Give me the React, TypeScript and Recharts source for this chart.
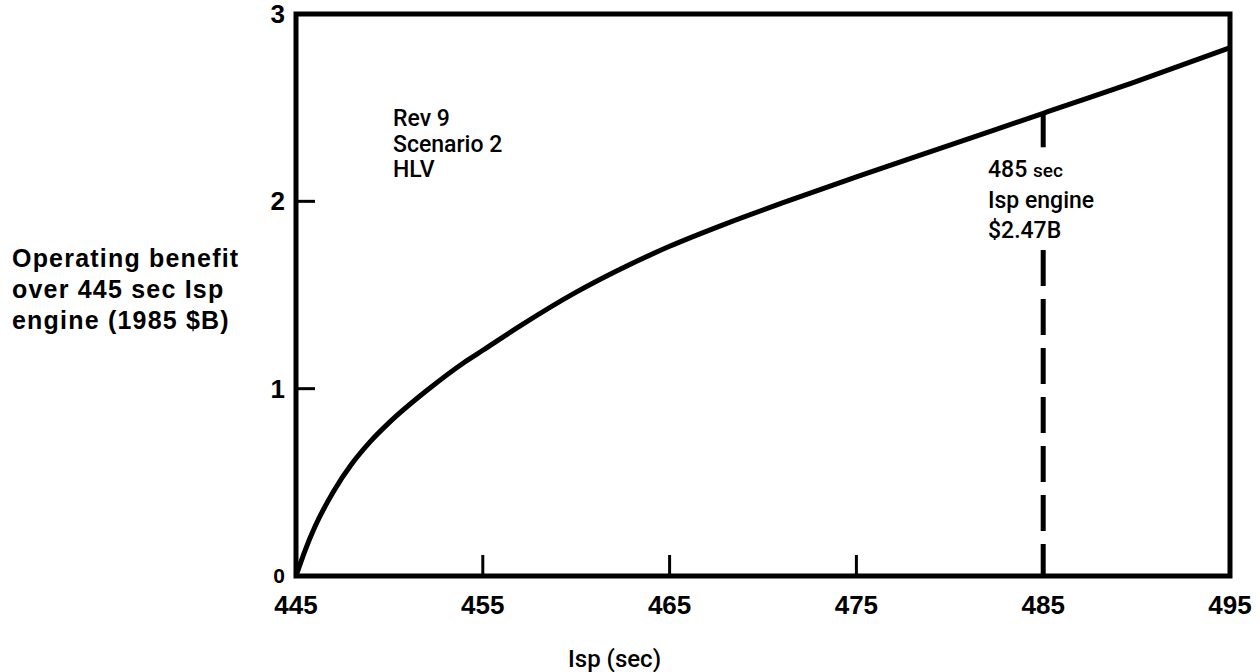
import React from 'react';
import { ComposedChart, Line, XAxis, YAxis, ReferenceArea, ReferenceLine } from 'recharts';

const ispValues = [445, 445.5, 446, 447, 448, 449, 450, 452, 454, 455, 457, 460, 462, 465, 468, 471, 475, 480, 485, 490, 495];
const benefitValues = [0, 0.14, 0.26, 0.45, 0.6, 0.72, 0.82, 0.99, 1.14, 1.205, 1.335, 1.515, 1.62, 1.76, 1.88, 1.99, 2.13, 2.3, 2.47, 2.64, 2.82];
const xTicks = [445, 455, 465, 475, 485, 495];
const yTicks = [0, 1, 2, 3];
const markerIsp = 485;
const markerBenefit = 2.47;
const markerGapTop = 2.24;
const markerGapBottom = 1.74;

const data = ispValues.map((x, i) => ({ isp: x, benefit: benefitValues[i] }));

const FONT = '"Liberation Sans", Arial, Helvetica, sans-serif';
const MED = 'Roboto, "Liberation Sans", Arial, sans-serif';

const XTick = (props: any) => {
  const { x, y, payload } = props;
  const v = payload.value;
  const inner = v !== 445 && v !== 495;
  return (
    <g>
      {inner && <line x1={x} y1={y} x2={x} y2={y - 21} stroke="#000" strokeWidth={3} />}
      <text x={x} y={y + 38} textAnchor="middle" fontFamily={FONT} fontWeight={700} fontSize={26} fill="#000">
        {v}
      </text>
    </g>
  );
};

const YTick = (props: any) => {
  const { x, y, payload } = props;
  const v = payload.value;
  const inner = v !== 0 && v !== 3;
  return (
    <g>
      {inner && <line x1={x} y1={y} x2={x + 19} y2={y} stroke="#000" strokeWidth={3} />}
      <text x={x - 11} y={y + (v === 0 ? 7 : 9)} textAnchor="end" fontFamily={FONT} fontWeight={700} fontSize={v === 0 ? 21 : 26} fill="#000">
        {v}
      </text>
    </g>
  );
};

const textStyle: React.CSSProperties = {
  position: 'absolute',
  fontFamily: FONT,
  color: '#000',
  whiteSpace: 'nowrap',
};

export default function App() {
  return (
    <div style={{ position: 'absolute', left: 0, top: 0, width: 1260, height: 672, background: '#fff' }}>
      <ComposedChart
        width={1260}
        height={672}
        data={data}
        margin={{ top: 14, right: 30, bottom: 0, left: 0 }}
      >
        <XAxis
          dataKey="isp"
          type="number"
          domain={[445, 495]}
          ticks={xTicks}
          interval={0}
          height={96}
          tickSize={0}
          tickMargin={0}
          axisLine={false}
          tickLine={false}
          tick={(p: any) => <XTick {...p} />}
        />
        <YAxis
          type="number"
          domain={[0, 3]}
          ticks={yTicks}
          interval={0}
          width={296}
          tickSize={0}
          tickMargin={0}
          axisLine={false}
          tickLine={false}
          tick={(p: any) => <YTick {...p} />}
        />
        <ReferenceArea x1={445} x2={495} y1={0} y2={3} fill="none" stroke="#000" strokeWidth={5} />
        <ReferenceLine
          segment={[{ x: markerIsp, y: markerBenefit }, { x: markerIsp, y: markerGapTop }]}
          stroke="#000"
          strokeWidth={5}
          strokeDasharray="34 12"
        />
        <ReferenceLine
          segment={[{ x: markerIsp, y: markerGapBottom }, { x: markerIsp, y: 0 }]}
          stroke="#000"
          strokeWidth={5}
          strokeDasharray="36 13"
        />
        <Line
          type="monotone"
          dataKey="benefit"
          stroke="#000"
          strokeWidth={5}
          dot={false}
          isAnimationActive={false}
        />
      </ComposedChart>

      <div style={{ ...textStyle, left: 12, top: 243, fontSize: 25, fontWeight: 700, lineHeight: '31px', letterSpacing: '1.2px' }}>
        Operating benefit<br />over 445 sec Isp<br />engine (1985 $B)
      </div>
      <div style={{ ...textStyle, fontFamily: MED, left: 393, top: 106, fontSize: 23, lineHeight: '25.5px', fontWeight: 500 }}>
        Rev 9<br />Scenario 2<br />HLV
      </div>
      <div style={{ ...textStyle, fontFamily: MED, left: 988, top: 155, fontSize: 23, lineHeight: '30px', fontWeight: 500 }}>
        485 <span style={{ fontSize: 19 }}>sec</span><br />Isp engine<br />$2.47B
      </div>
      <div style={{ ...textStyle, fontFamily: MED, left: 568, top: 645, fontSize: 24, fontWeight: 500 }}>
        Isp (sec)
      </div>
    </div>
  );
}
